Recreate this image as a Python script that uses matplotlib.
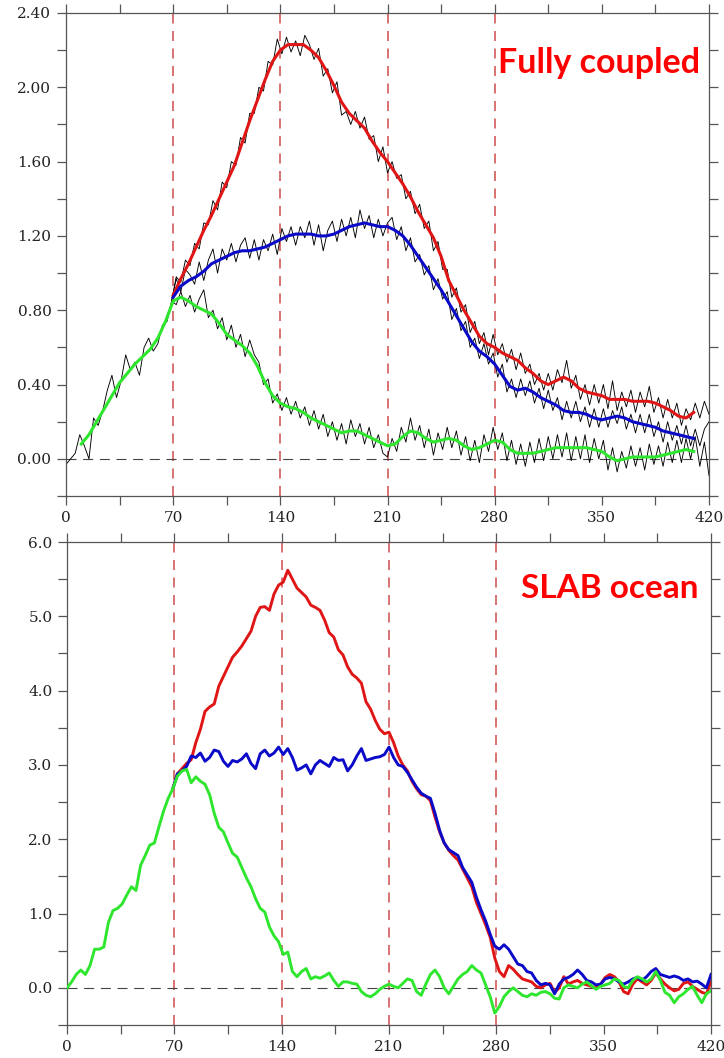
import numpy as np
import matplotlib
matplotlib.use("Agg")
import matplotlib.pyplot as plt
from matplotlib.ticker import MultipleLocator, FormatStrFormatter

# --- x axes (years) ---
raw_ramp_years = np.arange(0, 70, 3)
raw_branch_years = np.arange(72, 421, 3)
smooth_years = np.arange(70, 411, 5)
green_smooth_years = np.arange(10, 411, 5)
phase_marks = [70, 140, 210, 280]

# --- top panel: fully coupled, raw annual series (black) ---
fc_raw_ramp = [-0.03, 0.00, 0.03, 0.13, 0.07, 0.00, 0.22, 0.18, 0.26, 0.37,
               0.45, 0.33, 0.42, 0.56, 0.48, 0.52, 0.45, 0.60, 0.65, 0.58,
               0.62, 0.72, 0.74, 0.85]

fc_raw_red = [0.98, 0.95, 1.07, 1.04, 1.16, 1.13, 1.27, 1.26, 1.39, 1.34,
              1.49, 1.46, 1.60, 1.58, 1.73, 1.70, 1.86, 1.86, 2.00, 1.98,
              2.14, 2.12, 2.26, 2.18, 2.27, 2.19, 2.25, 2.17, 2.28, 2.23,
              2.15, 2.21, 2.06, 2.10, 1.97, 2.03, 1.85, 1.87, 1.80, 1.87,
              1.78, 1.84, 1.72, 1.74, 1.60, 1.68, 1.54, 1.60, 1.51, 1.53,
              1.40, 1.44, 1.32, 1.37, 1.24, 1.28, 1.12, 1.17, 1.02, 1.02,
              0.87, 0.92, 0.79, 0.83, 0.68, 0.74, 0.62, 0.68, 0.56, 0.67,
              0.56, 0.62, 0.52, 0.59, 0.48, 0.57, 0.46, 0.51, 0.40, 0.46,
              0.37, 0.46, 0.37, 0.48, 0.41, 0.53, 0.38, 0.45, 0.32, 0.40,
              0.29, 0.40, 0.30, 0.40, 0.27, 0.42, 0.26, 0.36, 0.28, 0.37,
              0.25, 0.36, 0.28, 0.39, 0.25, 0.33, 0.22, 0.32, 0.22, 0.30,
              0.18, 0.27, 0.21, 0.30, 0.22, 0.31, 0.24]

fc_raw_blue = [0.97, 0.90, 1.02, 0.99, 0.94, 1.06, 0.96, 1.07, 1.13, 1.00,
               1.13, 1.07, 1.16, 1.06, 1.15, 1.19, 1.08, 1.18, 1.07, 1.18,
               1.12, 1.21, 1.10, 1.24, 1.17, 1.25, 1.15, 1.25, 1.19, 1.28,
               1.15, 1.26, 1.12, 1.23, 1.28, 1.17, 1.29, 1.20, 1.30, 1.19,
               1.34, 1.24, 1.31, 1.19, 1.29, 1.20, 1.27, 1.30, 1.18, 1.25,
               1.12, 1.19, 1.06, 1.10, 0.99, 1.04, 0.91, 0.97, 0.86, 0.90,
               0.75, 0.81, 0.69, 0.74, 0.60, 0.65, 0.54, 0.62, 0.51, 0.57,
               0.44, 0.51, 0.36, 0.43, 0.33, 0.43, 0.34, 0.42, 0.30, 0.38,
               0.27, 0.37, 0.26, 0.33, 0.21, 0.31, 0.22, 0.31, 0.20, 0.28,
               0.17, 0.27, 0.17, 0.27, 0.17, 0.26, 0.19, 0.28, 0.16, 0.24,
               0.14, 0.24, 0.14, 0.24, 0.12, 0.20, 0.09, 0.20, 0.10, 0.18,
               0.08, 0.18, 0.07, 0.16, 0.07, 0.16, 0.20]

fc_raw_green = [0.83, 0.90, 0.82, 0.88, 0.79, 0.86, 0.91, 0.76, 0.80, 0.70,
                0.76, 0.64, 0.72, 0.60, 0.67, 0.55, 0.64, 0.56, 0.52, 0.40,
                0.43, 0.30, 0.35, 0.26, 0.33, 0.24, 0.31, 0.22, 0.28, 0.18,
                0.26, 0.16, 0.24, 0.12, 0.20, 0.10, 0.19, 0.08, 0.21, 0.12,
                0.19, 0.08, 0.17, 0.06, 0.13, 0.03, 0.01, 0.11, 0.04, 0.17,
                0.09, 0.22, 0.10, 0.18, 0.06, 0.16, 0.02, 0.14, 0.05, 0.17,
                0.06, 0.15, 0.02, 0.12, -0.01, 0.10, -0.02, 0.13, 0.04, 0.17,
                0.05, 0.14, -0.01, 0.10, -0.03, 0.08, -0.04, 0.09, -0.02, 0.11,
                -0.01, 0.12, 0.00, 0.13, 0.01, 0.14, -0.01, 0.12, 0.00, 0.13,
                -0.02, 0.11, 0.00, 0.10, -0.06, 0.06, -0.07, 0.04, -0.05, 0.07,
                -0.04, 0.06, -0.06, 0.08, -0.03, 0.07, -0.04, 0.09, -0.02, 0.10,
                -0.02, 0.11, 0.00, 0.12, -0.04, 0.09, -0.09]

# --- top panel: smoothed series ---
fc_smooth_red = [0.88, 0.97, 1.05, 1.14, 1.23, 1.31, 1.40, 1.49, 1.58, 1.70,
                 1.82, 1.93, 2.04, 2.14, 2.20, 2.23, 2.23, 2.23, 2.20, 2.16,
                 2.09, 2.01, 1.92, 1.86, 1.82, 1.78, 1.71, 1.65, 1.60, 1.54,
                 1.48, 1.41, 1.33, 1.26, 1.19, 1.09, 0.96, 0.88, 0.80, 0.73,
                 0.66, 0.62, 0.60, 0.57, 0.55, 0.53, 0.49, 0.46, 0.42, 0.40,
                 0.42, 0.44, 0.42, 0.38, 0.36, 0.35, 0.34, 0.32, 0.32, 0.32,
                 0.31, 0.31, 0.31, 0.30, 0.28, 0.26, 0.23, 0.22, 0.25]

fc_smooth_blue = [0.87, 0.93, 0.96, 0.98, 1.01, 1.05, 1.07, 1.09, 1.11, 1.12,
                  1.12, 1.13, 1.14, 1.16, 1.18, 1.20, 1.21, 1.21, 1.21, 1.20,
                  1.20, 1.21, 1.23, 1.25, 1.26, 1.27, 1.26, 1.25, 1.25, 1.23,
                  1.20, 1.15, 1.09, 1.03, 0.97, 0.91, 0.84, 0.77, 0.70, 0.63,
                  0.58, 0.55, 0.51, 0.45, 0.39, 0.37, 0.38, 0.36, 0.33, 0.31,
                  0.29, 0.26, 0.25, 0.25, 0.24, 0.22, 0.21, 0.22, 0.23, 0.22,
                  0.20, 0.19, 0.18, 0.17, 0.15, 0.14, 0.13, 0.12, 0.11]

fc_smooth_green = [0.08, 0.13, 0.20, 0.27, 0.34, 0.41, 0.46, 0.51, 0.55, 0.59,
                   0.65, 0.74, 0.85, 0.87, 0.85, 0.82, 0.80, 0.78, 0.73, 0.67,
                   0.64, 0.61, 0.57, 0.50, 0.41, 0.34, 0.30, 0.28, 0.27, 0.25,
                   0.22, 0.20, 0.18, 0.16, 0.14, 0.15, 0.15, 0.13, 0.11, 0.09,
                   0.07, 0.08, 0.12, 0.15, 0.14, 0.11, 0.09, 0.10, 0.11, 0.10,
                   0.07, 0.05, 0.06, 0.08, 0.10, 0.09, 0.05, 0.03, 0.03, 0.03,
                   0.04, 0.05, 0.06, 0.06, 0.06, 0.06, 0.06, 0.05, 0.04, 0.01,
                   -0.01, 0.00, 0.01, 0.01, 0.01, 0.01, 0.02, 0.03, 0.04, 0.05,
                   0.04]

# --- bottom panel: SLAB ocean ---
slab_ramp = [0.00, 0.08, 0.18, 0.24, 0.18, 0.30, 0.52, 0.52, 0.55, 0.88,
             1.04, 1.07, 1.13, 1.25, 1.36, 1.31, 1.65, 1.78, 1.92, 1.95,
             2.17, 2.38, 2.55, 2.68]

slab_red = [2.88, 2.95, 3.02, 3.07, 3.30, 3.48, 3.72, 3.78, 3.82, 4.06,
            4.19, 4.32, 4.45, 4.52, 4.60, 4.70, 4.80, 5.00, 5.12, 5.13,
            5.08, 5.30, 5.42, 5.46, 5.62, 5.50, 5.38, 5.32, 5.26, 5.15,
            5.12, 5.08, 4.95, 4.78, 4.72, 4.55, 4.48, 4.32, 4.22, 4.17,
            4.10, 3.85, 3.75, 3.60, 3.48, 3.42, 3.44, 3.30, 3.12, 3.00,
            2.92, 2.78, 2.68, 2.60, 2.58, 2.52, 2.30, 2.10, 1.95, 1.85,
            1.78, 1.72, 1.60, 1.48, 1.36, 1.15, 1.00, 0.85, 0.68, 0.40,
            0.22, 0.15, 0.30, 0.25, 0.18, 0.12, 0.10, 0.08, 0.02, 0.00,
            0.04, 0.06, -0.06, 0.00, 0.15, 0.05, 0.08, 0.10, 0.06, 0.04,
            0.02, 0.00, 0.05, 0.14, 0.18, 0.15, 0.08, -0.05, -0.08, 0.05,
            0.12, 0.08, 0.04, 0.10, 0.20, 0.12, 0.05, 0.00, -0.04, -0.02,
            0.06, 0.08, 0.02, -0.02, -0.06, -0.08, 0.08]

slab_blue = [2.88, 2.92, 2.98, 3.12, 3.10, 3.16, 3.05, 3.10, 3.20, 3.18,
             3.05, 2.98, 3.06, 3.04, 3.08, 3.15, 3.02, 2.95, 3.15, 3.20,
             3.12, 3.16, 3.24, 3.14, 3.22, 3.10, 2.93, 2.96, 3.00, 2.88,
             3.00, 3.06, 3.02, 2.98, 3.10, 3.06, 3.07, 2.92, 3.00, 3.12,
             3.22, 3.06, 3.08, 3.10, 3.11, 3.14, 3.24, 3.10, 3.00, 2.98,
             2.90, 2.80, 2.70, 2.62, 2.58, 2.55, 2.35, 2.12, 1.95, 1.86,
             1.82, 1.78, 1.62, 1.52, 1.42, 1.22, 1.05, 0.90, 0.72, 0.56,
             0.52, 0.58, 0.52, 0.42, 0.32, 0.30, 0.22, 0.20, 0.10, 0.04,
             0.06, 0.04, -0.08, 0.05, 0.12, 0.14, 0.18, 0.24, 0.18, 0.10,
             0.08, 0.04, 0.05, 0.12, 0.14, 0.12, 0.08, 0.05, 0.08, 0.12,
             0.14, 0.10, 0.15, 0.22, 0.26, 0.18, 0.16, 0.14, 0.16, 0.14,
             0.10, 0.12, 0.08, 0.09, 0.05, 0.00, 0.18]

slab_green = [2.85, 2.92, 2.94, 2.76, 2.84, 2.78, 2.74, 2.60, 2.35, 2.16,
              2.10, 1.95, 1.81, 1.76, 1.62, 1.48, 1.36, 1.20, 1.07, 1.02,
              0.82, 0.70, 0.62, 0.45, 0.48, 0.22, 0.15, 0.22, 0.26, 0.12,
              0.15, 0.13, 0.16, 0.20, 0.10, 0.02, 0.08, 0.08, 0.06, 0.05,
              -0.05, -0.10, -0.12, -0.08, -0.02, 0.02, 0.05, 0.02, 0.00, 0.06,
              0.12, 0.10, -0.05, -0.10, 0.05, 0.18, 0.24, 0.15, 0.00, -0.08,
              0.02, 0.12, 0.18, 0.22, 0.30, 0.24, 0.20, 0.04, -0.12, -0.34,
              -0.25, -0.12, -0.05, 0.00, -0.05, -0.10, -0.12, -0.08, -0.10, -0.06,
              -0.05, -0.08, -0.14, -0.15, 0.00, 0.04, 0.02, 0.00, 0.05, 0.08,
              0.03, -0.02, 0.02, 0.04, 0.06, 0.12, 0.10, 0.02, 0.00, 0.10,
              0.15, 0.12, 0.08, 0.12, 0.22, 0.10, -0.06, -0.10, -0.20, -0.12,
              -0.08, -0.02, 0.02, -0.10, -0.20, -0.08, -0.04]

RED = "#e01515"
BLUE = "#0a0ac8"
GREEN = "#2ee62e"
MARK = "#d25a5a"
SPINE = "#555555"


def branch(ramp, values):
    # join the branch onto the last ramp point
    x = np.concatenate([raw_ramp_years[-1:], raw_branch_years])
    y = np.concatenate([ramp[-1:], values])
    return x, y


def style_axes(ax, ylim, ymajor, yminor, yfmt):
    ax.set_xlim(0, 420)
    ax.set_ylim(*ylim)
    ax.xaxis.set_major_locator(MultipleLocator(70))
    ax.xaxis.set_minor_locator(MultipleLocator(35))
    ax.yaxis.set_major_locator(MultipleLocator(ymajor))
    ax.yaxis.set_minor_locator(MultipleLocator(yminor))
    ax.yaxis.set_major_formatter(FormatStrFormatter(yfmt))
    ax.tick_params(which="both", direction="out", length=6.5, width=0.9,
                   color=SPINE, top=True, right=True,
                   labeltop=False, labelright=False)
    ax.tick_params(which="major", labelsize=11, labelcolor="#222222", pad=4)
    for s in ax.spines.values():
        s.set_color(SPINE)
        s.set_linewidth(0.9)
    for lab in ax.get_xticklabels() + ax.get_yticklabels():
        lab.set_family("DejaVu Serif")
    for xm in phase_marks:
        ax.axvline(xm, color=MARK, lw=1.2, ls=(0, (6, 4.5)), zorder=1)
    ax.axhline(0, color="#444444", lw=0.8, ls=(0, (9, 6)), zorder=1)


fig = plt.figure(figsize=(7.24, 10.58), dpi=100)
ax1 = fig.add_axes([66 / 724, 1 - 496 / 1058, 643 / 724, 483 / 1058])
ax2 = fig.add_axes([67 / 724, 1 - 1025 / 1058, 644 / 724, 483 / 1058])

# --- top: fully coupled ---
ax1.plot(raw_ramp_years, fc_raw_ramp, color="black", lw=0.65, zorder=2)
for vals in (fc_raw_red, fc_raw_blue, fc_raw_green):
    bx, by = branch(fc_raw_ramp, vals)
    ax1.plot(bx, by, color="black", lw=0.65, zorder=2)
ax1.plot(smooth_years, fc_smooth_red, color=RED, lw=2.2, zorder=3,
         solid_joinstyle="round")
ax1.plot(smooth_years, fc_smooth_blue, color=BLUE, lw=2.2, zorder=3,
         solid_joinstyle="round")
ax1.plot(green_smooth_years, fc_smooth_green, color=GREEN, lw=2.2, zorder=4,
         solid_joinstyle="round")
style_axes(ax1, (-0.2, 2.4), 0.4, 0.2, "%.2f")
ax1.text(0.986, 0.876, "Fully coupled", transform=ax1.transAxes,
         ha="right", va="baseline", color="#ff0000", fontsize=24.5,
         fontweight="bold", family="Lato")

# --- bottom: SLAB ocean ---
for vals, col, z in ((slab_red, RED, 3), (slab_blue, BLUE, 4),
                     (slab_green, GREEN, 5)):
    bx, by = branch(slab_ramp, vals)
    ax2.plot(bx, by, color=col, lw=2.1, zorder=z, solid_joinstyle="round")
ax2.plot(raw_ramp_years, slab_ramp, color=GREEN, lw=2.1, zorder=5,
         solid_joinstyle="round")
style_axes(ax2, (-0.5, 6.0), 1.0, 0.5, "%.1f")
ax2.text(0.981, 0.884, "SLAB ocean", transform=ax2.transAxes,
         ha="right", va="baseline", color="#ff0000", fontsize=24,
         fontweight="bold", family="Lato")

fig.savefig("out.png", dpi=100)
